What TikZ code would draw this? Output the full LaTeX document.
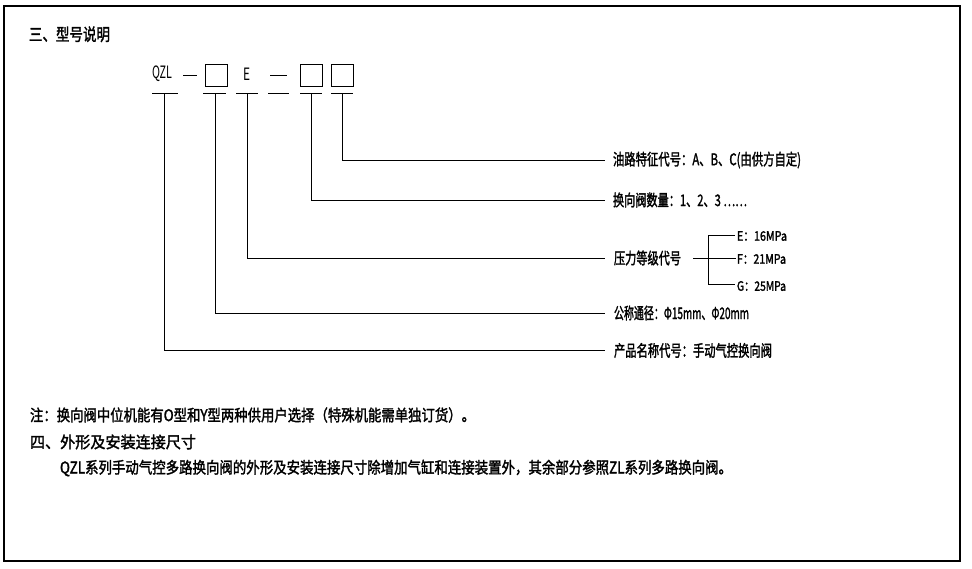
\documentclass[tikz,border=0pt]{standalone}
\usepackage{fontspec}
\newfontfamily\cjkb{Noto Sans CJK SC}[FakeBold=2]
\newfontfamily\cjkr{Noto Sans CJK SC}
\newcommand{\fitw}[2]{\resizebox{#1pt}{\height}{#2}}
\begin{document}
\begin{tikzpicture}[x=1pt,y=-1pt,
  every node/.style={inner sep=0pt, outer sep=0pt},
  txt/.style={anchor=west, font=\cjkb\fontsize{16}{16}\selectfont},
  small/.style={anchor=west, font=\cjkb\fontsize{13}{13}\selectfont},
  code/.style={anchor=west, font=\cjkr\fontsize{17}{17}\selectfont},
  box/.style={draw, line width=1pt, minimum width=22pt, minimum height=22pt},
  ln/.style={line width=1pt}]
\useasboundingbox (0,0) rectangle (972,568);
\draw[line width=1.3pt] (4,6) rectangle (960,561);

% title
\node[txt, font=\cjkb\fontsize{17}{17}\selectfont] (title) at (29,34.3) {\fitw{81}{三、型号说明}};

% model code row
\node[code] (qzl) at (152,74) {\fitw{20}{QZL}};
\node[box] (b1) at (216,75) {};
\node[code] (e) at (243,74) {\fitw{7}{E}};
\node[box] (b2) at (311,75) {};
\node[box] (b3) at (342,75) {};
\draw[ln] (183,75) -- (197,75);
\draw[ln] (270,75) -- (287,75);

% underlines
\draw[ln] (152,93) -- (178,93);
\draw[ln] (203,93) -- (226,93);
\draw[ln] (236,93) -- (258,93);
\draw[ln] (268,93) -- (289,93);
\draw[ln] (300,93) -- (322,93);
\draw[ln] (331,93) -- (353,93);

\coordinate (u1) at (164.5,93);
\coordinate (u2) at (215.5,93);
\coordinate (u3) at (247,93);
\coordinate (u5) at (311,93);
\coordinate (u6) at (342,93);

% labels
\node[txt] (t1) at (613,160) {\fitw{188}{油路特征代号：A、B、C(由供方自定)}};
\node[txt] (t2) at (613,200) {\fitw{134}{换向阀数量：1、2、3 ……}};
\node[txt] (t3) at (614,258) {\fitw{67}{压力等级代号}};
\node[small] (tE) at (737,236) {\fitw{50}{E：16MPa}};
\node[small] (tF) at (737,259) {\fitw{49}{F：21MPa}};
\node[small] (tG) at (737,286) {\fitw{49}{G：25MPa}};
\node[txt] (t4) at (614,313) {\fitw{135}{公称通径：Φ15mm、Φ20mm}};
\node[txt] (t5) at (614,350.5) {\fitw{158}{产品名称代号：手动气控换向阀}};

% leaders
\draw[ln] (u6) |- ([xshift=-8pt]t1.west);
\draw[ln] (u5) |- ([xshift=-8pt]t2.west);
\draw[ln] (u3) |- ([xshift=-9pt]t3.west);
\draw[ln] (u2) |- ([xshift=-9pt]t4.west);
\draw[ln] (u1) |- ([xshift=-9pt]t5.west);

% bracket
\draw[ln] (693,258) -- (736,258);
\draw[ln] (735,235) -- (708,235) -- (708,284) -- (735,284);

% notes
\node[txt] (n1) at (30,415) {\fitw{445}{注：换向阀中位机能有O型和Y型两种供用户选择（特殊机能需单独订货）。}};
\node[txt] (n2) at (30,442) {\fitw{166}{四、外形及安装连接尺寸}};
\node[txt] (n3) at (60,468) {\fitw{672}{QZL系列手动气控多路换向阀的外形及安装连接尺寸除增加气缸和连接装置外，其余部分参照ZL系列多路换向阀。}};
\end{tikzpicture}
\end{document}
